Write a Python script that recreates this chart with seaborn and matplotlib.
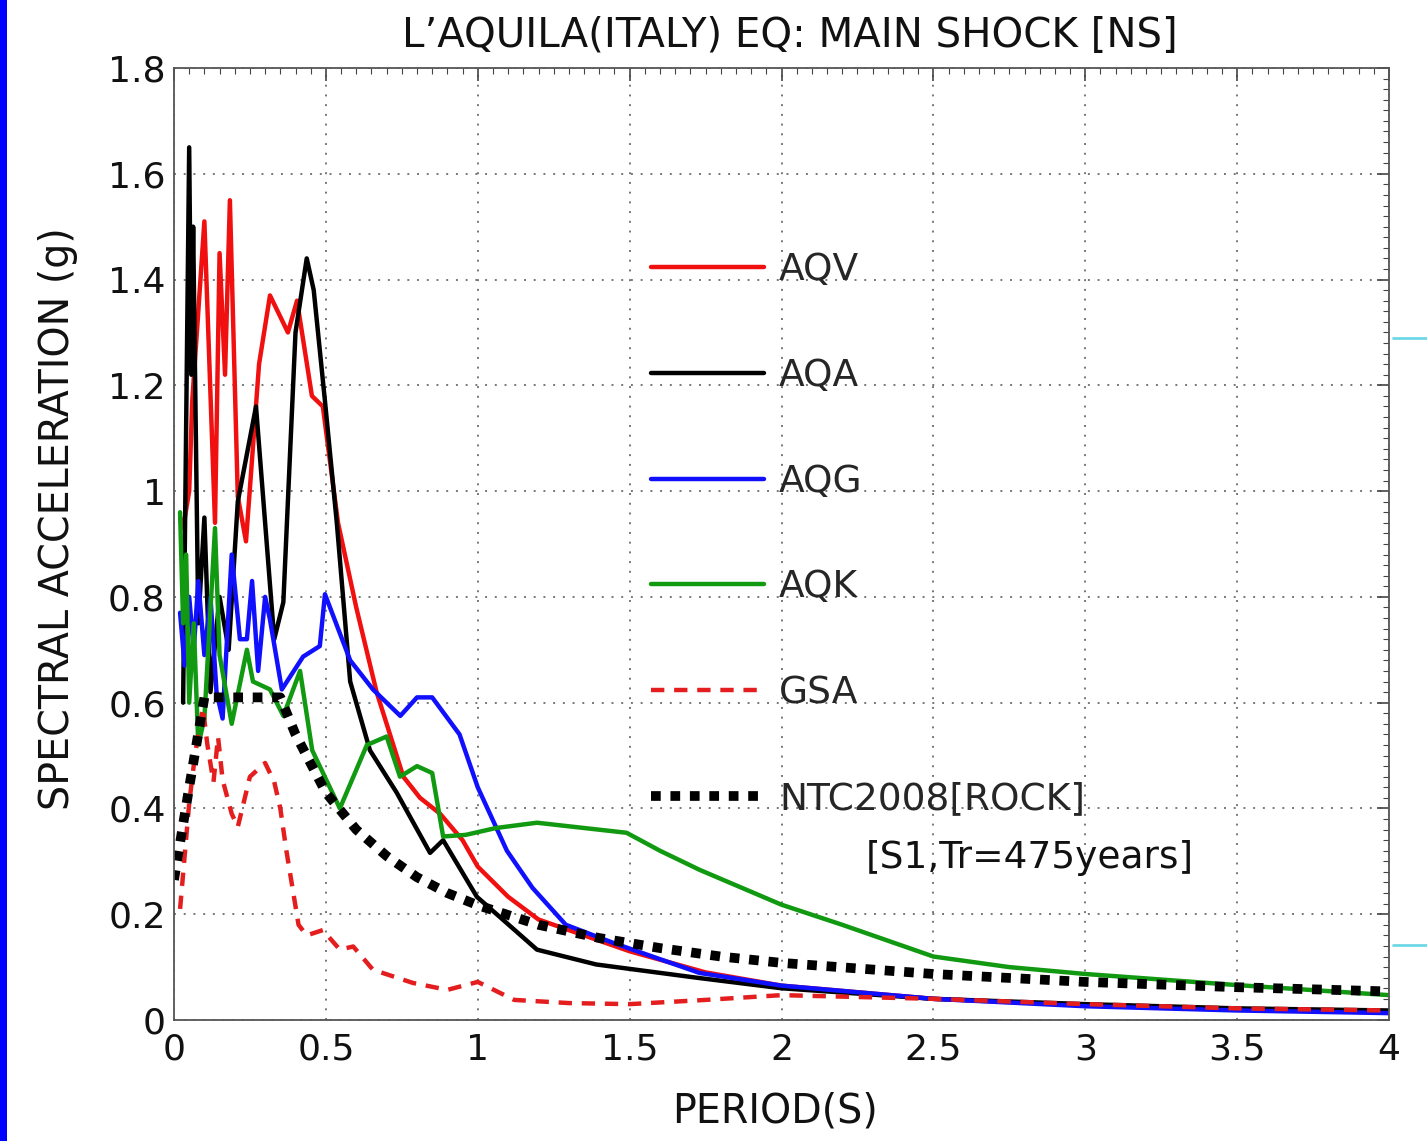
import matplotlib
matplotlib.use("Agg")
import matplotlib.pyplot as plt
import seaborn as sb
from matplotlib.lines import Line2D
from matplotlib.patches import Rectangle
from matplotlib.ticker import AutoMinorLocator, MultipleLocator

# spectral acceleration (g) vs period (s)
t_aqv = [0.02, 0.03, 0.05, 0.06, 0.10, 0.135, 0.15, 0.168, 0.184, 0.21, 0.237,
         0.28, 0.316, 0.375, 0.405, 0.454, 0.49, 0.54, 0.60, 0.667, 0.755, 0.81,
         0.876, 0.95, 1.0, 1.1, 1.2, 1.3, 1.5, 1.75, 2.0, 2.5, 3.0, 3.5, 4.0]
sa_aqv = [0.95, 0.93, 1.0, 1.17, 1.51, 0.94, 1.45, 1.22, 1.55, 0.99, 0.905,
          1.24, 1.37, 1.30, 1.36, 1.18, 1.16, 0.94, 0.78, 0.62, 0.46, 0.42,
          0.39, 0.34, 0.29, 0.233, 0.19, 0.17, 0.13, 0.09, 0.065, 0.04, 0.028, 0.02, 0.016]

t_aqa = [0.03, 0.05, 0.057, 0.063, 0.08, 0.10, 0.12, 0.15, 0.18, 0.21, 0.27,
         0.33, 0.36, 0.40, 0.437, 0.46, 0.497, 0.536, 0.58, 0.645, 0.733, 0.843,
         0.886, 0.997, 1.195, 1.39, 1.72, 2.0, 2.5, 3.0, 3.5, 4.0]
sa_aqa = [0.60, 1.65, 1.22, 1.50, 0.75, 0.95, 0.62, 0.80, 0.70, 0.98, 1.16,
          0.72, 0.79, 1.30, 1.44, 1.38, 1.17, 0.94, 0.64, 0.51, 0.43, 0.316,
          0.34, 0.233, 0.133, 0.105, 0.08, 0.06, 0.04, 0.03, 0.022, 0.018]

t_aqg = [0.02, 0.035, 0.05, 0.065, 0.08, 0.10, 0.12, 0.14, 0.16, 0.19, 0.217,
         0.24, 0.257, 0.277, 0.30, 0.316, 0.355, 0.425, 0.48, 0.497, 0.58, 0.655,
         0.745, 0.80, 0.85, 0.94, 1.0, 1.096, 1.18, 1.29, 1.45, 1.73, 2.0, 2.5,
         3.0, 3.5, 4.0]
sa_aqg = [0.77, 0.67, 0.80, 0.70, 0.83, 0.69, 0.80, 0.62, 0.57, 0.88, 0.72,
          0.72, 0.83, 0.66, 0.80, 0.757, 0.625, 0.687, 0.707, 0.805, 0.68, 0.625,
          0.575, 0.61, 0.61, 0.54, 0.44, 0.32, 0.25, 0.18, 0.145, 0.089, 0.065, 0.04,
          0.026, 0.018, 0.013]

t_aqk = [0.02, 0.03, 0.04, 0.05, 0.065, 0.08, 0.10, 0.135, 0.15, 0.19, 0.24,
         0.26, 0.316, 0.36, 0.415, 0.455, 0.546, 0.635, 0.70, 0.744, 0.80, 0.85,
         0.886, 0.96, 1.06, 1.195, 1.49, 1.6, 1.73, 2.0, 2.2, 2.5, 2.75, 3.0,
         3.5, 4.0]
sa_aqk = [0.96, 0.75, 0.88, 0.60, 0.75, 0.52, 0.57, 0.93, 0.69, 0.56, 0.70,
          0.64, 0.625, 0.575, 0.66, 0.51, 0.40, 0.52, 0.536, 0.46, 0.48, 0.467,
          0.347, 0.35, 0.363, 0.373, 0.354, 0.32, 0.284, 0.218, 0.18, 0.12, 0.10, 0.087,
          0.066, 0.047]

t_gsa = [0.02, 0.05, 0.07, 0.095, 0.11, 0.13, 0.145, 0.16, 0.19, 0.21, 0.25,
         0.30, 0.33, 0.35, 0.37, 0.39, 0.41, 0.437, 0.49, 0.546, 0.59, 0.655,
         0.787, 0.90, 1.0, 1.12, 1.3, 1.5, 1.75, 2.0, 2.5, 3.0, 3.5, 4.0]
sa_gsa = [0.21, 0.41, 0.505, 0.59, 0.52, 0.45, 0.535, 0.454, 0.39, 0.365, 0.46,
          0.486, 0.45, 0.40, 0.32, 0.25, 0.18, 0.16, 0.17, 0.133, 0.139, 0.095,
          0.07, 0.057, 0.072, 0.038, 0.032, 0.03, 0.038, 0.047, 0.04, 0.03, 0.022, 0.018]

t_ntc = [0.0, 0.05, 0.1, 0.35, 0.4, 0.5, 0.6, 0.7, 0.8, 0.9, 1.0, 1.2, 1.4,
         1.6, 1.8, 2.0, 2.5, 3.0, 3.5, 4.0]
sa_ntc = [0.265, 0.44, 0.61, 0.61, 0.54, 0.43, 0.36, 0.31, 0.27, 0.24, 0.217,
          0.18, 0.155, 0.136, 0.12, 0.108, 0.087, 0.072, 0.062, 0.054]

sb.set_style("white")
plt.rcParams["font.family"] = ["DejaVu Sans"]

fig = plt.figure(figsize=(14.27, 11.41), dpi=100)
ax = fig.add_axes([174 / 1427, 1 - 1020 / 1141, 1215 / 1427, 952 / 1141])

lw = 3.2
sb.lineplot(x=t_aqv, y=sa_aqv, ax=ax, color="#f01010", lw=lw, label="AQV")
sb.lineplot(x=t_aqa, y=sa_aqa, ax=ax, color="black", lw=lw, label="AQA")
sb.lineplot(x=t_aqg, y=sa_aqg, ax=ax, color="#1010ff", lw=lw, label="AQG")
sb.lineplot(x=t_aqk, y=sa_aqk, ax=ax, color="#119911", lw=lw, label="AQK")
sb.lineplot(x=t_gsa, y=sa_gsa, ax=ax, color="#e41e1e", lw=lw,
            linestyle=(0, (3, 2.2)), label="GSA")
sb.lineplot(x=t_ntc, y=sa_ntc, ax=ax, color="black", lw=7,
            linestyle=(0, (1, 1)), dash_capstyle="butt", label="NTC2008[ROCK]")

ax.set_xlim(0, 4)
ax.set_ylim(0, 1.8)
ax.xaxis.set_minor_locator(AutoMinorLocator(10))
ax.yaxis.set_minor_locator(AutoMinorLocator(10))
ax.set_xticks([0, 0.5, 1, 1.5, 2, 2.5, 3, 3.5, 4])
ax.set_xticklabels(["0", "0.5", "1", "1.5", "2", "2.5", "3", "3.5", "4"])
ax.set_yticks([0, 0.2, 0.4, 0.6, 0.8, 1.0, 1.2, 1.4, 1.6, 1.8])
ax.set_yticklabels(["0", "0.2", "0.4", "0.6", "0.8", "1", "1.2", "1.4", "1.6", "1.8"])
ax.tick_params(which="both", direction="in", top=True, right=True, colors="#444444",
               labelcolor="#111111")
ax.tick_params(which="major", length=9, width=1.2, labelsize=26)
ax.tick_params(which="minor", length=4, width=0.8)
ax.tick_params(axis="x", pad=9)
ax.tick_params(axis="y", pad=6)
ax.grid(True, which="major", linestyle=(0, (1, 4)), color="#777777", lw=1.4)
for sp in ax.spines.values():
    sp.set_color("#555555")
    sp.set_linewidth(1.3)

ax.set_title("L\u2019AQUILA(ITALY) EQ: MAIN SHOCK [NS]", fontsize=29, x=0.507, pad=15,
             color="#111111")
ax.set_xlabel("PERIOD(S)", fontsize=28.5, color="#111111")
ax.set_ylabel("SPECTRAL ACCELERATION (g)", fontsize=28.5, color="#111111")
ax.xaxis.set_label_coords(0.495, -0.075)
ax.yaxis.set_label_coords(-0.079, 0.527)

ax.legend(loc="upper left", bbox_to_anchor=(0.393, 0.8065), frameon=False,
          fontsize=27, handlelength=3.0, handletextpad=0.4, labelspacing=1.86,
          borderpad=0, borderaxespad=0)
ax.text(0.569, 0.170, "[S1,Tr=475years]", transform=ax.transAxes, fontsize=27,
        va="center", ha="left", color="#111111")

# blue strip on the left edge and the two cyan marks on the right
fig.add_artist(Rectangle((0, 0), 7 / 1427, 1, transform=fig.transFigure,
                         color="#0000ff", lw=0))
for yp in (338, 945):
    fig.add_artist(Line2D([1393 / 1427, 1], [1 - yp / 1141] * 2,
                          transform=fig.transFigure, color="#6fd8e6", lw=2))

fig.savefig("out.png", dpi=100)
